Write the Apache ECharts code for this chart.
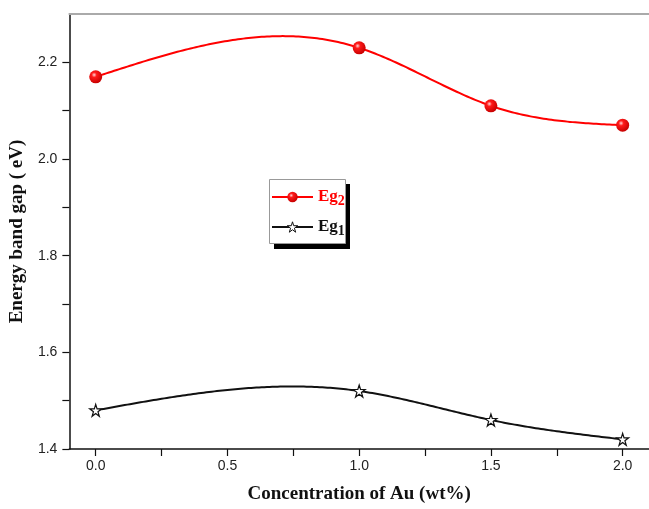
<!DOCTYPE html>
<html><head><meta charset="utf-8">
<script src="https://cdn.jsdelivr.net/npm/echarts@6/dist/echarts.min.js"></script>
<style>html,body{margin:0;padding:0;background:#fff}#c{width:649px;height:509px}</style>
</head><body><div id="c"></div>
<script>
const concentration = [0.0, 1.0, 1.5, 2.0];
const eg2 = [2.17, 2.23, 2.11, 2.07];
const eg1 = [1.48, 1.52, 1.46, 1.42];
const xTickLabels = [0.0, 0.5, 1.0, 1.5, 2.0];
const xTicks = [0.0, 0.25, 0.5, 0.75, 1.0, 1.25, 1.5, 1.75, 2.0];
const yTickLabels = [1.4, 1.6, 1.8, 2.0, 2.2];
const yTicks = [1.4, 1.5, 1.6, 1.7, 1.8, 1.9, 2.0, 2.1, 2.2];

const star = 'path://M50,2 L61,37 L98,37 L68,59 L79,95 L50,73 L21,95 L32,59 L2,37 L39,37 Z';
const sphere = {
  type: 'radial', x: 0.38, y: 0.35, r: 0.65,
  colorStops: [{offset: 0, color: '#ffd8d8'}, {offset: 0.3, color: '#ff1a1a'}, {offset: 1, color: '#c80000'}]
};
const serif = '"Liberation Serif","DejaVu Serif",serif';
const sans = '"Liberation Sans",Arial,sans-serif';

// natural cubic spline through data points (rendering of the connecting curve)
function naturalSpline(xs, ys) {
  const n = xs.length, h = [];
  for (let i = 0; i < n - 1; i++) h.push(xs[i + 1] - xs[i]);
  const M = new Array(n).fill(0);
  const m = n - 2;
  if (m > 0) {
    const A = [], B = [], C = [], D = [];
    for (let i = 1; i <= m; i++) {
      A.push(h[i - 1]); B.push(2 * (h[i - 1] + h[i])); C.push(h[i]);
      D.push(6 * ((ys[i + 1] - ys[i]) / h[i] - (ys[i] - ys[i - 1]) / h[i - 1]));
    }
    for (let i = 1; i < m; i++) { const w = A[i] / B[i - 1]; B[i] -= w * C[i - 1]; D[i] -= w * D[i - 1]; }
    const sol = new Array(m);
    sol[m - 1] = D[m - 1] / B[m - 1];
    for (let i = m - 2; i >= 0; i--) sol[i] = (D[i] - C[i] * sol[i + 1]) / B[i];
    for (let i = 0; i < m; i++) M[i + 1] = sol[i];
  }
  return function (x) {
    let i = 0;
    while (i < n - 2 && x > xs[i + 1]) i++;
    const hi = h[i], t1 = xs[i + 1] - x, t0 = x - xs[i];
    return M[i] * t1 * t1 * t1 / (6 * hi) + M[i + 1] * t0 * t0 * t0 / (6 * hi)
      + (ys[i] - M[i] * hi * hi / 6) * t1 / hi + (ys[i + 1] - M[i + 1] * hi * hi / 6) * t0 / hi;
  };
}
function splineSeries(ys, color) {
  const f = naturalSpline(concentration, ys);
  return {
    type: 'custom', silent: true, z: 1,
    data: concentration.map((x, i) => [x, ys[i]]),
    renderItem: function (params, api) {
      if (params.dataIndex !== 0) return null;
      const pts = [];
      const x0 = concentration[0], x1 = concentration[concentration.length - 1];
      const N = 200;
      for (let k = 0; k <= N; k++) {
        const x = x0 + (x1 - x0) * k / N;
        pts.push(api.coord([x, f(x)]));
      }
      return {type: 'polyline', shape: {points: pts}, style: {stroke: color, lineWidth: 2, fill: null}};
    }
  };
}

const chart = echarts.init(document.getElementById('c'));
chart.setOption({
  animation: false,
  grid: {left: 67, top: 14, right: -1, bottom: 55, containLabel: false},
  graphic: [
    {type: 'rect', z: 5, silent: true, shape: {x: 274, y: 184, width: 76, height: 65}, style: {fill: '#000'}},
    {type: 'rect', z: 6, silent: true, shape: {x: 269.5, y: 179.5, width: 76, height: 64}, style: {fill: '#fff', stroke: '#999', lineWidth: 1}}
  ],
  xAxis: [{
    type: 'value', min: -0.1, max: 2.1, position: 'bottom',
    name: 'Concentration of Au (wt%)', nameLocation: 'middle', nameGap: 36,
    nameTextStyle: {fontFamily: serif, fontWeight: 'bold', fontSize: 19, color: '#111'},
    axisLine: {show: true, onZero: false, lineStyle: {color: '#111', width: 1.5}},
    axisTick: {show: true, inside: false, length: 7, customValues: xTicks, lineStyle: {color: '#111', width: 1.2}},
    axisLabel: {customValues: xTickLabels, formatter: v => Number(v).toFixed(1), fontFamily: sans, fontSize: 14, color: '#222', margin: 10},
    splitLine: {show: false}
  }, {
    type: 'value', min: -0.1, max: 2.1, position: 'top',
    axisLine: {show: true, onZero: false, lineStyle: {color: '#aaa', width: 2}},
    axisTick: {show: false}, axisLabel: {show: false}, splitLine: {show: false}
  }],
  yAxis: {
    type: 'value', min: 1.4, max: 2.3,
    name: 'Energy band gap ( eV)', nameLocation: 'middle', nameGap: 35,
    nameTextStyle: {fontFamily: serif, fontWeight: 'bold', fontSize: 19, color: '#111'},
    axisLine: {show: true, onZero: false, lineStyle: {color: '#111', width: 1.5}},
    axisTick: {show: true, inside: false, length: 7, customValues: yTicks, lineStyle: {color: '#111', width: 1.2}},
    axisLabel: {customValues: yTickLabels, formatter: v => Number(v).toFixed(1), fontFamily: sans, fontSize: 14, color: '#222', margin: 12},
    splitLine: {show: false}
  },
  legend: {
    orient: 'vertical', left: 269, top: 180, z: 10,
    padding: [5, 3, 5, 2], itemGap: 7, itemWidth: 41, itemHeight: 13,
    data: [
      {name: 'Eg2', textStyle: {color: '#ff0000'}, lineStyle: {color: '#ff0000', width: 2, opacity: 1}},
      {name: 'Eg1', textStyle: {color: '#111'}, lineStyle: {color: '#111', width: 2, opacity: 1}, itemStyle: {color: '#fff', borderColor: '#111', borderWidth: 1}}
    ],
    formatter: name => '{b|Eg}{s|' + name.slice(2) + '}',
    textStyle: {
      rich: {
        b: {fontFamily: serif, fontWeight: 'bold', fontSize: 17, lineHeight: 22},
        s: {fontFamily: serif, fontWeight: 'bold', fontSize: 14, lineHeight: 22, verticalAlign: 'bottom', padding: [9, 0, 0, 0]}
      }
    }
  },
  series: [
    splineSeries(eg2, '#ff0000'),
    splineSeries(eg1, '#111'),
    {
      name: 'Eg2', type: 'line', z: 3,
      data: concentration.map((x, i) => [x, eg2[i]]),
      symbol: 'circle', symbolSize: 13,
      lineStyle: {color: '#ff0000', width: 2, opacity: 0},
      itemStyle: {color: sphere, borderWidth: 0}
    }, {
      name: 'Eg1', type: 'line', z: 3,
      data: concentration.map((x, i) => [x, eg1[i]]),
      symbol: star, symbolSize: 12,
      lineStyle: {color: '#111', width: 2, opacity: 0},
      itemStyle: {color: '#fff', borderColor: '#111', borderWidth: 1.2}
    }
  ]
});
</script></body></html>
